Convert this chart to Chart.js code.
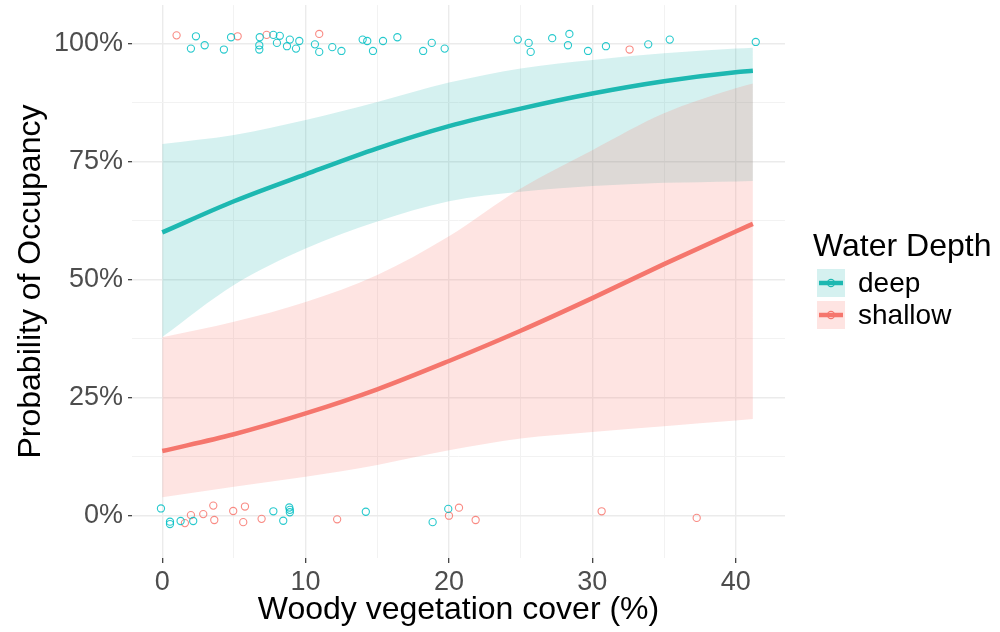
<!DOCTYPE html>
<html>
<head>
<meta charset="utf-8">
<script src="https://cdn.jsdelivr.net/npm/chart.js@4.4.0/dist/chart.umd.min.js"></script>
<style>
  html, body { margin: 0; padding: 0; background: #ffffff; }
  #wrap { width: 1000px; height: 632px; position: relative; }
</style>
</head>
<body>
<div id="wrap"><canvas id="c" width="1000" height="632"></canvas></div>
<script>
const FONT = "'Liberation Sans', Arial, Helvetica, sans-serif";

// Predicted occupancy (%) along woody vegetation cover (%)
const coverX = [0, 5, 10, 15, 20, 25, 30, 35, 40, 41.2];
const deepFit = [60.0, 66.6, 72.3, 77.8, 82.5, 86.2, 89.4, 92.0, 93.9, 94.2];
const deepLow = [37.9, 48.9, 56.6, 62.3, 66.6, 68.6, 69.8, 70.5, 70.8, 70.9];
const deepHigh = [78.7, 80.6, 83.8, 87.6, 91.7, 94.7, 96.5, 97.9, 98.9, 99.1];
const shallowFit = [13.75, 17.3, 21.7, 26.8, 32.8, 39.2, 46.1, 53.3, 60.2, 61.8];
const shallowLow = [3.95, 6.2, 8.3, 10.8, 13.9, 16.4, 17.8, 19.0, 20.2, 20.5];
const shallowHigh = [37.8, 41.1, 45.3, 51.0, 59.2, 69.3, 77.4, 85.2, 90.5, 91.5];

// Observed detections (jittered around 0% / 100%)
const deepObsX = [2.35, 2.0, 2.96, 4.3, 4.8, 6.8, 6.77, 6.77, 7.75, 8.2, 8.0, 8.7, 8.9, 9.33, 9.56, 10.65, 10.95, 11.86, 12.5, 13.98, 14.3, 14.7, 15.4, 16.4, 18.2, 18.8, 19.7, 24.8, 25.56, 25.7, 27.2, 28.4, 28.3, 29.7, 30.95, 33.9, 35.4, 41.4,
  -0.09, 0.54, 0.54, 1.28, 2.16, 7.75, 8.44, 8.86, 8.9, 8.9, 14.2, 18.86, 19.95];
const deepObsY = [101.5, 98.9, 99.6, 98.7, 101.3, 101.3, 99.6, 98.7, 101.8, 101.6, 100.1, 99.4, 100.8, 98.9, 100.5, 99.8, 98.2, 99.2, 98.4, 100.8, 100.5, 98.4, 100.5, 101.3, 98.4, 100.1, 98.9, 100.8, 100.1, 98.2, 101.1, 102.0, 99.6, 98.4, 99.4, 99.8, 100.8, 100.3,
  1.6, -1.2, -1.7, -1.06, -1.06, 1.0, -1.0, 1.8, 1.3, 0.8, 0.9, -1.3, 1.5];
const shallowObsX = [1.0, 5.26, 7.28, 10.95, 32.6,
  1.58, 2.0, 2.86, 3.56, 3.63, 4.95, 5.77, 5.65, 6.93, 12.2, 20.0, 20.7, 21.86, 30.65, 37.28];
const shallowObsY = [101.7, 101.5, 101.8, 102.0, 98.7,
  -1.5, 0.2, 0.4, 2.2, -0.85, 1.06, 2.0, -1.3, -0.6, -0.7, 0.06, 1.76, -0.85, 1.0, -0.4];

// Axis ticks
const xGridTicks = [0, 5, 10, 15, 20, 25, 30, 35, 40];
const xLabelTicks = [0, 10, 20, 30, 40];
const yGridTicks = [0, 12.5, 25, 37.5, 50, 62.5, 75, 87.5, 100];
const yLabelTicks = [0, 25, 50, 75, 100];

const depthGroups = ['deep', 'shallow'];
const legendTitle = 'Water Depth';
const xTitle = 'Woody vegetation cover (%)';
const yTitle = 'Probability of Occupancy';

const TEAL = '#1DB8B1';
const SALMON = '#F5766D';
const TEAL_PT = 'rgba(0,191,196,0.85)';
const SALMON_PT = 'rgba(248,118,109,0.85)';
const TEAL_BAND = 'rgba(20,180,172,0.18)';
const SALMON_BAND = 'rgba(248,118,109,0.2)';

const pts = (xs, ys) => xs.map((x, i) => ({ x: x, y: ys[i] }));

const curveStyle = {
  type: 'line',
  pointRadius: 0,
  cubicInterpolationMode: 'monotone',
  showLine: true
};

const datasets = [
  // 0,1: deep confidence band
  Object.assign({}, curveStyle, { label: 'deep low', data: pts(coverX, deepLow), borderWidth: 0, borderColor: 'rgba(0,0,0,0)', fill: false, order: 3 }),
  Object.assign({}, curveStyle, { label: 'deep high', data: pts(coverX, deepHigh), borderWidth: 0, borderColor: 'rgba(0,0,0,0)', backgroundColor: TEAL_BAND, fill: { target: 0 }, order: 3 }),
  // 2,3: shallow confidence band
  Object.assign({}, curveStyle, { label: 'shallow low', data: pts(coverX, shallowLow), borderWidth: 0, borderColor: 'rgba(0,0,0,0)', fill: false, order: 2 }),
  Object.assign({}, curveStyle, { label: 'shallow high', data: pts(coverX, shallowHigh), borderWidth: 0, borderColor: 'rgba(0,0,0,0)', backgroundColor: SALMON_BAND, fill: { target: 2 }, order: 2 }),
  // 4,5: fitted curves
  Object.assign({}, curveStyle, { label: depthGroups[0], data: pts(coverX, deepFit), borderWidth: 4.5, borderColor: TEAL, fill: false, order: 1 }),
  Object.assign({}, curveStyle, { label: depthGroups[1], data: pts(coverX, shallowFit), borderWidth: 4.5, borderColor: SALMON, fill: false, order: 1 }),
  // 6,7: observations
  { type: 'scatter', label: 'deep obs', data: pts(deepObsX, deepObsY), pointStyle: 'circle', pointRadius: 3.6, borderWidth: 1.1, borderColor: TEAL_PT, backgroundColor: 'rgba(0,0,0,0)', order: 0 },
  { type: 'scatter', label: 'shallow obs', data: pts(shallowObsX, shallowObsY), pointStyle: 'circle', pointRadius: 3.6, borderWidth: 1.1, borderColor: SALMON_PT, backgroundColor: 'rgba(0,0,0,0)', order: 0 }
];

// Legend on the right: title, filled key boxes with line + point, labels
const depthLegend = {
  id: 'depthLegend',
  afterDraw(chart) {
    const ctx = chart.ctx;
    ctx.save();
    ctx.fillStyle = '#000000';
    ctx.textAlign = 'left';
    ctx.textBaseline = 'alphabetic';
    ctx.font = '32px ' + FONT;
    ctx.fillText(legendTitle, 813, 256);
    const lineCols = [TEAL, SALMON];
    const bandCols = [TEAL_BAND, SALMON_BAND];
    depthGroups.forEach((name, i) => {
      const bx = 817, by = 269 + i * 32, bs = 28;
      ctx.fillStyle = bandCols[i];
      ctx.fillRect(bx, by, bs, bs);
      const cy = by + bs / 2;
      ctx.strokeStyle = lineCols[i];
      ctx.lineWidth = 4.5;
      ctx.beginPath();
      ctx.moveTo(bx + 2, cy);
      ctx.lineTo(bx + bs - 2, cy);
      ctx.stroke();
      ctx.lineWidth = 1.1;
      ctx.beginPath();
      ctx.arc(bx + bs / 2, cy, 3.6, 0, Math.PI * 2);
      ctx.stroke();
      ctx.fillStyle = '#000000';
      ctx.font = '28px ' + FONT;
      ctx.textBaseline = 'middle';
      ctx.fillText(name, 858, cy + 1);
      ctx.textBaseline = 'alphabetic';
    });
    ctx.restore();
  }
};

const isIn = (arr, v) => arr.some(a => Math.abs(a - v) < 1e-6);
const noPad = s => { s.paddingTop = 0; s.paddingBottom = 0; s.paddingLeft = 0; s.paddingRight = 0; };

new Chart(document.getElementById('c'), {
  type: 'scatter',
  data: { datasets: datasets },
  plugins: [depthLegend],
  options: {
    responsive: false,
    animation: false,
    events: [],
    devicePixelRatio: 1,
    layout: { padding: { top: 5, right: 215, left: 0, bottom: 0 } },
    plugins: { legend: { display: false }, tooltip: { enabled: false } },
    scales: {
      x: {
        type: 'linear',
        min: -2.11,
        max: 43.44,
        afterBuildTicks: s => { s.ticks = xGridTicks.map(v => ({ value: v })); },
        afterFit: s => { s.height = 74; noPad(s); },
        ticks: {
          autoSkip: false,
          maxRotation: 0,
          padding: 3,
          color: '#4D4D4D',
          font: { family: FONT, size: 27 },
          callback: v => isIn(xLabelTicks, v) ? String(v) : ''
        },
        grid: {
          color: ctx => isIn(xLabelTicks, ctx.tick.value) ? '#EBEBEB' : '#F2F2F2',
          lineWidth: ctx => isIn(xLabelTicks, ctx.tick.value) ? 1.4 : 1,
          tickLength: 5,
          tickColor: ctx => isIn(xLabelTicks, ctx.tick.value) ? '#333333' : 'rgba(0,0,0,0)',
          tickWidth: 1.2
        },
        border: { display: false },
        title: {
          display: true,
          text: xTitle,
          color: '#000000',
          font: { family: FONT, size: 32 },
          padding: { top: 0, bottom: 3 }
        }
      },
      y: {
        type: 'linear',
        min: -8.885,
        max: 108.1,
        afterBuildTicks: s => { s.ticks = yGridTicks.map(v => ({ value: v })); },
        afterFit: s => { s.width = 132; noPad(s); },
        ticks: {
          autoSkip: false,
          padding: 5,
          color: '#4D4D4D',
          font: { family: FONT, size: 27 },
          callback: v => isIn(yLabelTicks, v) ? v + '%' : ''
        },
        grid: {
          color: ctx => isIn(yLabelTicks, ctx.tick.value) ? '#EBEBEB' : '#F2F2F2',
          lineWidth: ctx => isIn(yLabelTicks, ctx.tick.value) ? 1.4 : 1,
          tickLength: 4,
          tickColor: ctx => isIn(yLabelTicks, ctx.tick.value) ? '#333333' : 'rgba(0,0,0,0)',
          tickWidth: 1.2
        },
        border: { display: false },
        title: {
          display: true,
          text: yTitle,
          color: '#000000',
          font: { family: FONT, size: 32 },
          padding: { top: 12, bottom: 0 }
        }
      }
    }
  }
});
</script>
</body>
</html>
